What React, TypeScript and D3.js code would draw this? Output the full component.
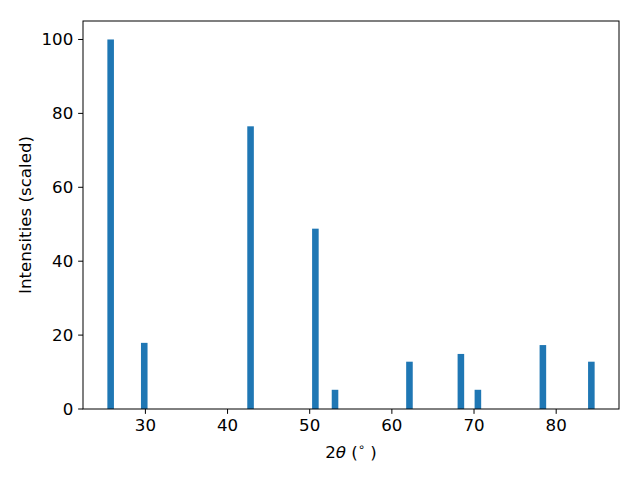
import React from "react";
import * as d3 from "d3";

const positions = [25.77, 29.86, 42.8, 50.69, 53.08, 62.14, 68.4, 70.47, 78.38, 84.28];
const intensities = [100, 17.9, 76.5, 48.8, 5.2, 12.8, 14.9, 5.2, 17.3, 12.8];
const xTicks = [30, 40, 50, 60, 70, 80];
const yTicks = [0, 20, 40, 60, 80, 100];
const barWidth = 0.8;

export default function App() {
  const W = 640, H = 480;
  const left = 83, right = 619, top = 21, bottom = 409;
  const minX = d3.min(positions)! - barWidth / 2;
  const maxX = d3.max(positions)! + barWidth / 2;
  const pad = (maxX - minX) * 0.05;
  const x = d3.scaleLinear().domain([minX - pad, maxX + pad]).range([left, right]);
  const y = d3.scaleLinear().domain([0, d3.max(intensities)! * 1.05]).range([bottom, top]);
  const font = "'DejaVu Sans', sans-serif";
  const fs = 16.67;
  return (
    <svg width={W} height={H} style={{ position: "absolute", left: 0, top: 0, background: "#fff" }}>
      <rect x={0} y={0} width={W} height={H} fill="#fff" />
      {positions.map((p, i) => (
        <rect
          key={i}
          x={x(p - barWidth / 2)}
          width={x(p + barWidth / 2) - x(p - barWidth / 2)}
          y={y(intensities[i])}
          height={y(0) - y(intensities[i])}
          fill="#1f77b4"
        />
      ))}
      <rect x={left} y={top} width={right - left} height={bottom - top} fill="none" stroke="#000" strokeWidth={1} />
      {xTicks.map((t) => (
        <g key={t}>
          <line x1={x(t)} x2={x(t)} y1={bottom} y2={bottom + 4.86} stroke="#000" strokeWidth={1} />
          <text x={x(t)} y={bottom + 9.7} dy="0.76em" textAnchor="middle" fontFamily={font} fontSize={fs}>
            {t}
          </text>
        </g>
      ))}
      {yTicks.map((t) => (
        <g key={t}>
          <line x1={left - 4.86} x2={left} y1={y(t)} y2={y(t)} stroke="#000" strokeWidth={1} />
          <text x={left - 9.7} y={y(t)} dy="0.36em" textAnchor="end" fontFamily={font} fontSize={fs}>
            {t}
          </text>
        </g>
      ))}
      <text x={(left + right) / 2} y={458} textAnchor="middle" fontFamily={font} fontSize={fs}>
        <tspan>2</tspan>
        <tspan fontStyle="italic">θ</tspan>
        <tspan> (</tspan>
        <tspan fontSize={11.5} dy={-7}>∘</tspan>
        <tspan dy={7}> )</tspan>
      </text>
      <text
        transform={`translate(31, ${(top + bottom) / 2}) rotate(-90)`}
        textAnchor="middle"
        fontFamily={font}
        fontSize={fs}
      >
        Intensities (scaled)
      </text>
    </svg>
  );
}
